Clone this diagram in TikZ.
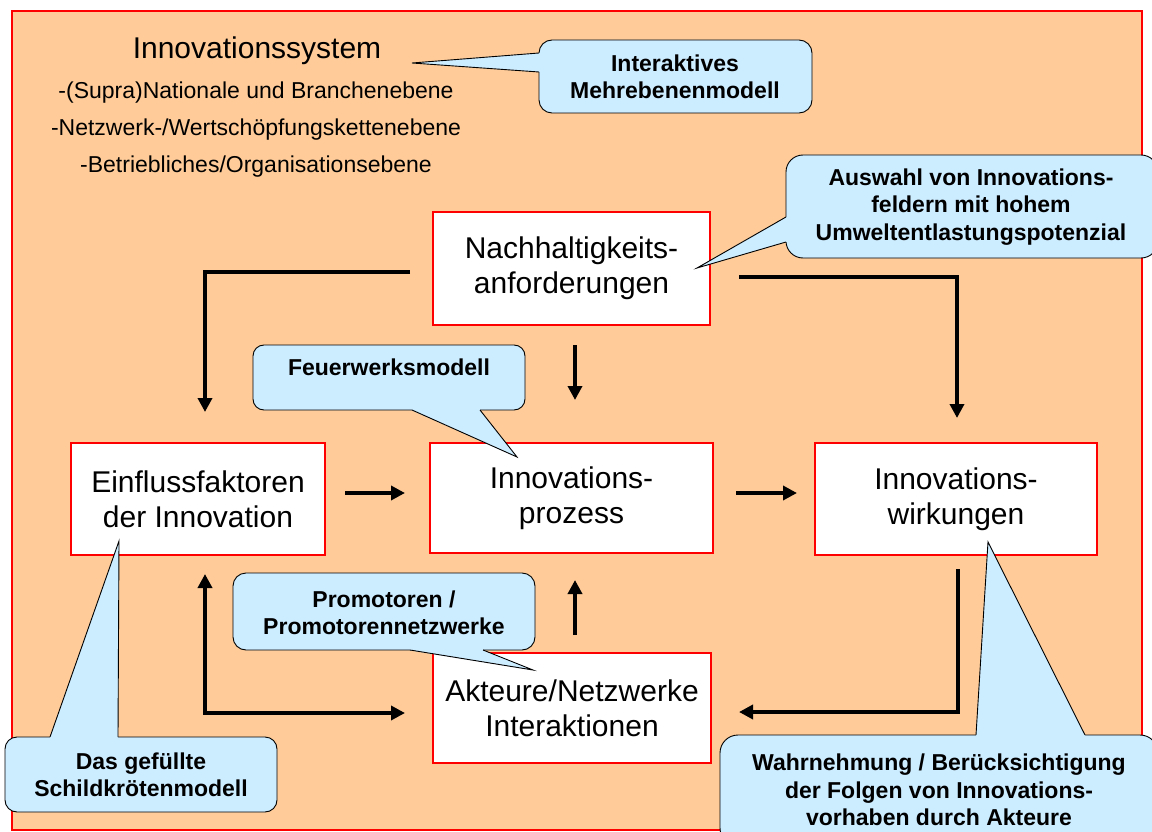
\documentclass[tikz,border=0pt]{standalone}
\usepackage{fontspec}
\setmainfont{Liberation Sans}
\usetikzlibrary{arrows.meta}
\definecolor{peach}{RGB}{255,204,153}
\definecolor{bubble}{RGB}{204,236,255}
\begin{document}
\begin{tikzpicture}[x=1pt,y=-1pt,
  box/.style={draw=red, line width=1.2pt, fill=white, align=center,
    font=\fontsize{30}{35}\selectfont, inner sep=0pt},
  flow/.style={line width=4pt, -{Triangle[length=14pt,width=14pt]}},
  twoway/.style={line width=4pt, {Triangle[length=14pt,width=14pt]}-{Triangle[length=14pt,width=14pt]}},
  bubblebody/.style={draw=black, line width=0.9pt, fill=bubble},
  bubbleedge/.style={draw=black, line width=0.9pt, line join=miter},
  bubbletext/.style={align=center, font=\bfseries\fontsize{23}{27.5}\selectfont},
  headline/.style={anchor=base, font=\fontsize{30}{36}\selectfont},
  level/.style={anchor=base, font=\fontsize{23}{28}\selectfont},
]
\useasboundingbox (0,0) rectangle (1152,832);
\clip (0,0) rectangle (1152,832);
\fill[white] (0,0) rectangle (1152,832);

% frame of the innovation system
\draw[red, line width=2pt, fill=peach] (12,11) rectangle (1142,830);

% heading and system levels
\node[headline] (sys) at (257,59) {Innovationssystem};
\node[level] (lv1) at (256,99) {-(Supra)Nationale und Branchenebene};
\node[level] (lv2) at (256,136) {-Netzwerk-/Wertschöpfungskettenebene};
\node[level] (lv3) at (256,172) {-Betriebliches/Organisationsebene};

% main boxes
\node[box, minimum width=277pt, minimum height=113pt] (nach) at (571.5,268.5) {Nachhaltigkeits-\\anforderungen};
\node[box, minimum width=254pt, minimum height=112pt] (einfl) at (198,499) {Einflussfaktoren\\der Innovation};
\node[box, minimum width=283pt, minimum height=110pt] (proz) at (571.5,498) {Innovations-\\prozess};
\node[box, minimum width=282pt, minimum height=112pt] (wirk) at (956,499) {Innovations-\\wirkungen};
\node[box, minimum width=278pt, minimum height=110pt] (akt) at (572,708) {Akteure/Netzwerke\\Interaktionen};

% arrow end points
\coordinate (nl) at (410,272);   \coordinate (el) at (205,412);
\coordinate (nr) at (739,277);   \coordinate (wr) at (957,418);
\coordinate (nd) at (575,345);   \coordinate (pd) at (575,400);
\coordinate (ep) at (345,493);   \coordinate (pe) at (405,493);
\coordinate (pw) at (736,493);   \coordinate (wp) at (797,493);
\coordinate (ap) at (575,635);   \coordinate (pa) at (575,580);
\coordinate (eu) at (205,574);   \coordinate (ar) at (405,713);
\coordinate (wd) at (958,569);   \coordinate (al) at (739,712);

\draw[flow] (nl) -| (el);
\draw[flow] (nr) -| (wr);
\draw[flow] (nd) -- (pd);
\draw[flow] (ep) -- (pe);
\draw[flow] (pw) -- (wp);
\draw[flow] (ap) -- (pa);
\draw[twoway] (eu) |- (ar);
\draw[flow] (wd) |- (al);

% callout: Interaktives Mehrebenenmodell (pointer on the left side)
\coordinate (t1) at (412,63);
\draw[bubblebody, rounded corners=13pt] (539,40) rectangle (812,113);
\fill[bubble] (539,53) -- (t1) -- (539,72) -- (545,72) -- (545,53) -- cycle;
\draw[bubbleedge] (539,53) -- (t1) -- (539,72);
\node[bubbletext] (c1) at (675,77) {Interaktives\\Mehrebenenmodell};

% callout: Auswahl von Innovationsfeldern
\coordinate (t2) at (697,268);
\draw[bubblebody, rounded corners=17pt] (786,155) rectangle (1158,258);
\fill[bubble] (786,217) -- (t2) -- (786,242) -- (792,242) -- (792,217) -- cycle;
\draw[bubbleedge] (786,217) -- (t2) -- (786,242);
\node[bubbletext] (c2) at (971,207) {Auswahl von Innovations-\\feldern mit hohem\\Umweltentlastungspotenzial};

% callout: Feuerwerksmodell
\coordinate (t3) at (517,457);
\draw[bubblebody, rounded corners=11pt] (253,345) rectangle (525,410);
\fill[bubble] (412,410.4) -- (t3) -- (480,410.4) -- (480,404) -- (412,404) -- cycle;
\draw[bubbleedge] (412,410) -- (t3) -- (480,410);
\node[bubbletext] (c3) at (389,367) {Feuerwerksmodell};

% callout: Das gefuellte Schildkroetenmodell
\coordinate (t4) at (119,541);
\draw[bubblebody, rounded corners=12pt] (5,737) rectangle (277,812);
\fill[bubble] (50,736.6) -- (t4) -- (118,736.6) -- (118,743) -- (50,743) -- cycle;
\draw[bubbleedge] (50,737) -- (t4) -- (118,737);
\node[bubbletext] (c4) at (141,775) {Das gefüllte\\Schildkrötenmodell};

% callout: Wahrnehmung / Beruecksichtigung
\coordinate (t5) at (988,542);
\draw[bubblebody, rounded corners=18pt] (720,735) rectangle (1158,846);
\fill[bubble] (976,734.6) -- (t5) -- (1085,734.6) -- (1085,741) -- (976,741) -- cycle;
\draw[bubbleedge] (976,735) -- (t5) -- (1085,735);
\node[bubbletext] (c5) at (939,790) {Wahrnehmung / Berücksichtigung\\der Folgen von Innovations-\\vorhaben durch Akteure};

% callout: Promotoren / Promotorennetzwerke
\coordinate (t6) at (533,670);
\draw[bubblebody, rounded corners=13pt] (233,573) rectangle (535,650);
\fill[bubble] (410,650.4) -- (t6) -- (483,650.4) -- (483,644) -- (410,644) -- cycle;
\draw[bubbleedge] (410,650) -- (t6) -- (483,650);
\node[bubbletext] (c6) at (384,613) {Promotoren /\\Promotorennetzwerke};
\end{tikzpicture}
\end{document}
